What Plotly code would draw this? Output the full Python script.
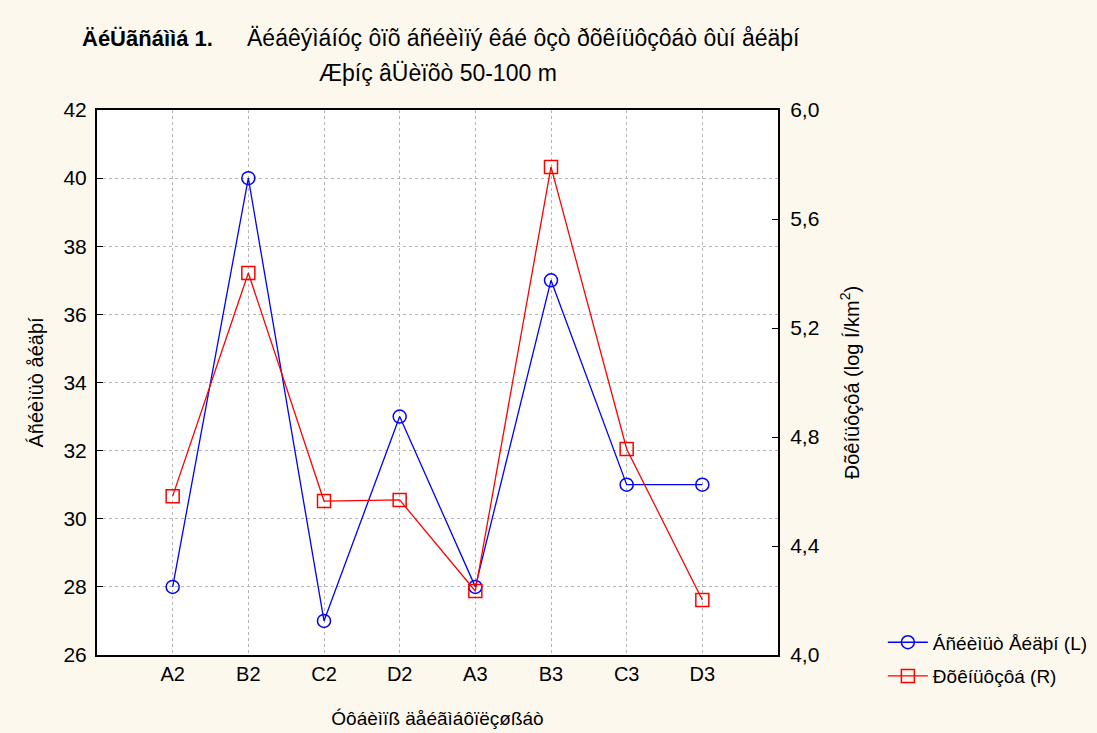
import plotly.graph_objects as go

categories = ["A2", "B2", "C2", "D2", "A3", "B3", "C3", "D3"]
species_count = [28, 40, 27, 33, 28, 37, 31, 31]
density_log = [4.583, 5.402, 4.565, 4.569, 4.235, 5.791, 4.756, 4.202]
left_ticks = [26, 28, 30, 32, 34, 36, 38, 40, 42]
right_ticks = [4.0, 4.4, 4.8, 5.2, 5.6, 6.0]
right_tick_text = ["4,0", "4,4", "4,8", "5,2", "5,6", "6,0"]

FONT = "Liberation Sans, Arial, sans-serif"
xpos = list(range(len(categories)))

fig = go.Figure()
fig.add_trace(go.Scatter(
    x=xpos, y=species_count, mode="lines+markers",
    name="Áñéèìüò Åéäþí (L)", legendgroup="a",
    line=dict(color="#0000ff", width=1.3),
    marker=dict(symbol="circle-open", size=13, color="#0000ff", line=dict(width=1.5)),
))
fig.add_trace(go.Scatter(
    x=xpos, y=density_log, mode="lines+markers", yaxis="y2",
    name="Ðõêíüôçôá (R)", legendgroup="b",
    line=dict(color="#ff0000", width=1.3),
    marker=dict(symbol="square-open", size=13, color="#ff0000", line=dict(width=1.5)),
))

fig.update_layout(
    width=1097, height=733,
    margin=dict(l=97, r=319, t=110, b=78, autoexpand=False),
    paper_bgcolor="#fdf8ee", plot_bgcolor="#ffffff",
    font=dict(family=FONT, size=22, color="#000000"),
    showlegend=True,
    legend=dict(x=1.154, y=0.058, xanchor="left", yanchor="top",
                bgcolor="rgba(0,0,0,0)", font=dict(size=19, family=FONT),
                itemwidth=40, tracegroupgap=6),
    xaxis=dict(
        range=[-1, 8], tickmode="array", tickvals=xpos, ticktext=categories,
        showgrid=True, gridcolor="#b5b5b5", griddash="dot", gridwidth=1,
        showline=True, linecolor="#000000", linewidth=2, mirror=True,
        ticks="", zeroline=False, tickfont=dict(size=20), automargin=False,
        title=dict(text="Óôáèìïß äåéãìáôïëçøßáò", font=dict(size=19), standoff=28),
    ),
    yaxis=dict(
        range=[26, 42], tickmode="array", tickvals=left_ticks,
        showgrid=True, gridcolor="#b5b5b5", griddash="dot", gridwidth=1,
        showline=True, linecolor="#000000", linewidth=2, mirror=True,
        ticks="inside", ticklen=6, tickcolor="#000000", zeroline=False,
        tickfont=dict(size=21), ticklabelstandoff=4, automargin=False,
        title=dict(text="Áñéèìüò åéäþí", font=dict(size=20), standoff=14),
    ),
    yaxis2=dict(
        range=[4.0, 6.0], overlaying="y", side="right",
        tickmode="array", tickvals=right_ticks, ticktext=right_tick_text,
        showgrid=False, showline=True, linecolor="#000000", linewidth=2,
        zeroline=False, ticks="inside", ticklen=6, tickcolor="#000000",
        tickfont=dict(size=21), ticklabelstandoff=6, automargin=False,
        title=dict(text="Ðõêíüôçôá (log Í/km<sup>2</sup>)", font=dict(size=20), standoff=26),
    ),
    annotations=[
        dict(text="<b>ÄéÜãñáììá 1.</b>", x=80, y=38, showarrow=False,
             xanchor="left", yanchor="middle", font=dict(size=22)),
        dict(text="Äéáêýìáíóç ôïõ áñéèìïý êáé ôçò ðõêíüôçôáò ôùí åéäþí",
             x=245, y=38, showarrow=False, xanchor="left", yanchor="middle",
             font=dict(size=23)),
        dict(text="Æþíç âÜèïõò 50-100 m", x=438, y=73, showarrow=False,
             xanchor="center", yanchor="middle", font=dict(size=23)),
    ],
)

# position title annotations in pixel space
for ann in fig.layout.annotations:
    px, py = ann.x, ann.y
    ann.xref = "paper"
    ann.yref = "paper"
    ann.x = (px - 97) / 681
    ann.y = (655 - py) / 545

fig.write_html("out.html")
